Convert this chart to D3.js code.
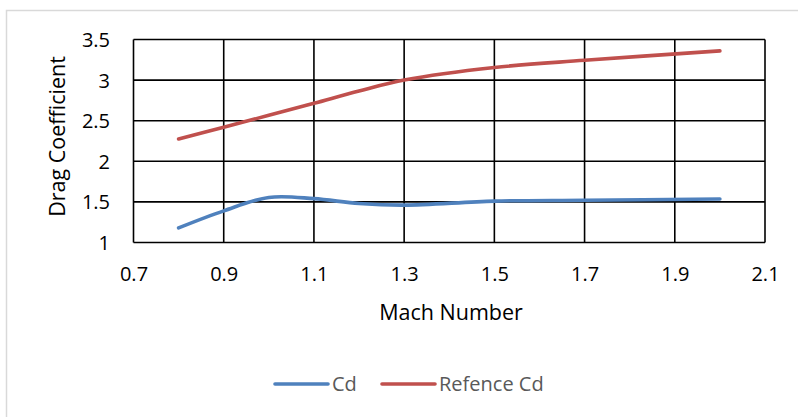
<!DOCTYPE html>
<html>
<head>
<meta charset="utf-8">
<script src="https://cdn.jsdelivr.net/npm/d3@7/dist/d3.min.js"></script>
<style>
  html, body { margin: 0; padding: 0; background: #fff; }
  svg { display: block; font-family: "Open Sans", sans-serif; }
</style>
</head>
<body>
<svg id="chart" width="798" height="417"></svg>
<script>
// Mach numbers at which the drag coefficient was evaluated
const mach = [0.8, 0.9, 1.0, 1.1, 1.2, 1.3, 1.5, 1.7, 2.0];
// Computed drag coefficient
const cd = [1.18, 1.39, 1.555, 1.54, 1.48, 1.46, 1.51, 1.52, 1.535];
// Reference drag coefficient
const refCd = [2.275, 2.42, 2.566, 2.714, 2.866, 3.0, 3.155, 3.244, 3.36];

const xTicks = [0.7, 0.9, 1.1, 1.3, 1.5, 1.7, 1.9, 2.1];
const yTicks = [1, 1.5, 2, 2.5, 3, 3.5];

const seriesNames = ["Cd", "Refence Cd"];
const seriesColors = ["#4F81BD", "#C0504D"];

const svg = d3.select("#chart");

// outer chart frame
svg.append("rect")
  .attr("x", 6.5).attr("y", 10.5)
  .attr("width", 800).attr("height", 420)
  .attr("fill", "#fff")
  .attr("stroke", "#d9d9d9")
  .attr("stroke-width", 1.5);

const plot = { left: 133.5, right: 765, top: 39.5, bottom: 242.5 };

const x = d3.scaleLinear().domain([0.7, 2.1]).range([plot.left, plot.right]);
const y = d3.scaleLinear().domain([1, 3.5]).range([plot.bottom, plot.top]);

// gridlines
const grid = svg.append("g").attr("stroke", "#000").attr("stroke-width", 1.6);
grid.selectAll(".vg").data(xTicks).join("line")
  .attr("x1", d => x(d)).attr("x2", d => x(d))
  .attr("y1", plot.top).attr("y2", plot.bottom);
grid.selectAll(".hg").data(yTicks).join("line")
  .attr("x1", plot.left).attr("x2", plot.right)
  .attr("y1", d => y(d)).attr("y2", d => y(d));

// axes (labels only, no tick marks)
const xAxis = svg.append("g")
  .attr("transform", `translate(0,${plot.bottom})`)
  .call(d3.axisBottom(x).tickValues(xTicks).tickSize(0).tickPadding(0).tickFormat(d3.format(".1f")));
xAxis.select(".domain").remove();
xAxis.selectAll("text")
  .attr("y", 38.5).attr("dy", null)
  .attr("font-size", 20).attr("font-family", "Open Sans").attr("fill", "#000");

const yAxis = svg.append("g")
  .attr("transform", `translate(${plot.left},0)`)
  .call(d3.axisLeft(y).tickValues(yTicks).tickSize(0).tickPadding(0).tickFormat(d => String(d)));
yAxis.select(".domain").remove();
yAxis.selectAll("text")
  .attr("x", -23.5).attr("dy", "0.35em")
  .attr("font-size", 20).attr("font-family", "Open Sans").attr("fill", "#000");

// series lines
const line = d3.line()
  .x((d, i) => x(mach[i]))
  .y(d => y(d))
  .curve(d3.curveCatmullRom.alpha(0.5));

[cd, refCd].forEach((vals, i) => {
  svg.append("path")
    .datum(vals)
    .attr("d", line)
    .attr("fill", "none")
    .attr("stroke", seriesColors[i])
    .attr("stroke-width", 3.6)
    .attr("stroke-linecap", "round")
    .attr("stroke-linejoin", "round");
});

// axis titles
svg.append("text")
  .attr("x", 451).attr("y", 319.5)
  .attr("text-anchor", "middle")
  .attr("font-size", 21.5)
  .attr("fill", "#000")
  .text("Mach Number");

svg.append("text")
  .attr("transform", "translate(65,136.5) rotate(-90)")
  .attr("text-anchor", "middle")
  .attr("font-size", 21.5)
  .attr("fill", "#000")
  .text("Drag Coefficient");

// legend
const legend = [
  { x1: 275, x2: 328, tx: 332 },
  { x1: 382, x2: 435, tx: 439 }
];
legend.forEach((l, i) => {
  svg.append("line")
    .attr("x1", l.x1).attr("x2", l.x2)
    .attr("y1", 384).attr("y2", 384)
    .attr("stroke", seriesColors[i])
    .attr("stroke-width", 3.6)
    .attr("stroke-linecap", "round");
  svg.append("text")
    .attr("x", l.tx).attr("y", 391)
    .attr("font-size", 20)
    .attr("fill", "#595959")
    .text(seriesNames[i]);
});
</script>
</body>
</html>
